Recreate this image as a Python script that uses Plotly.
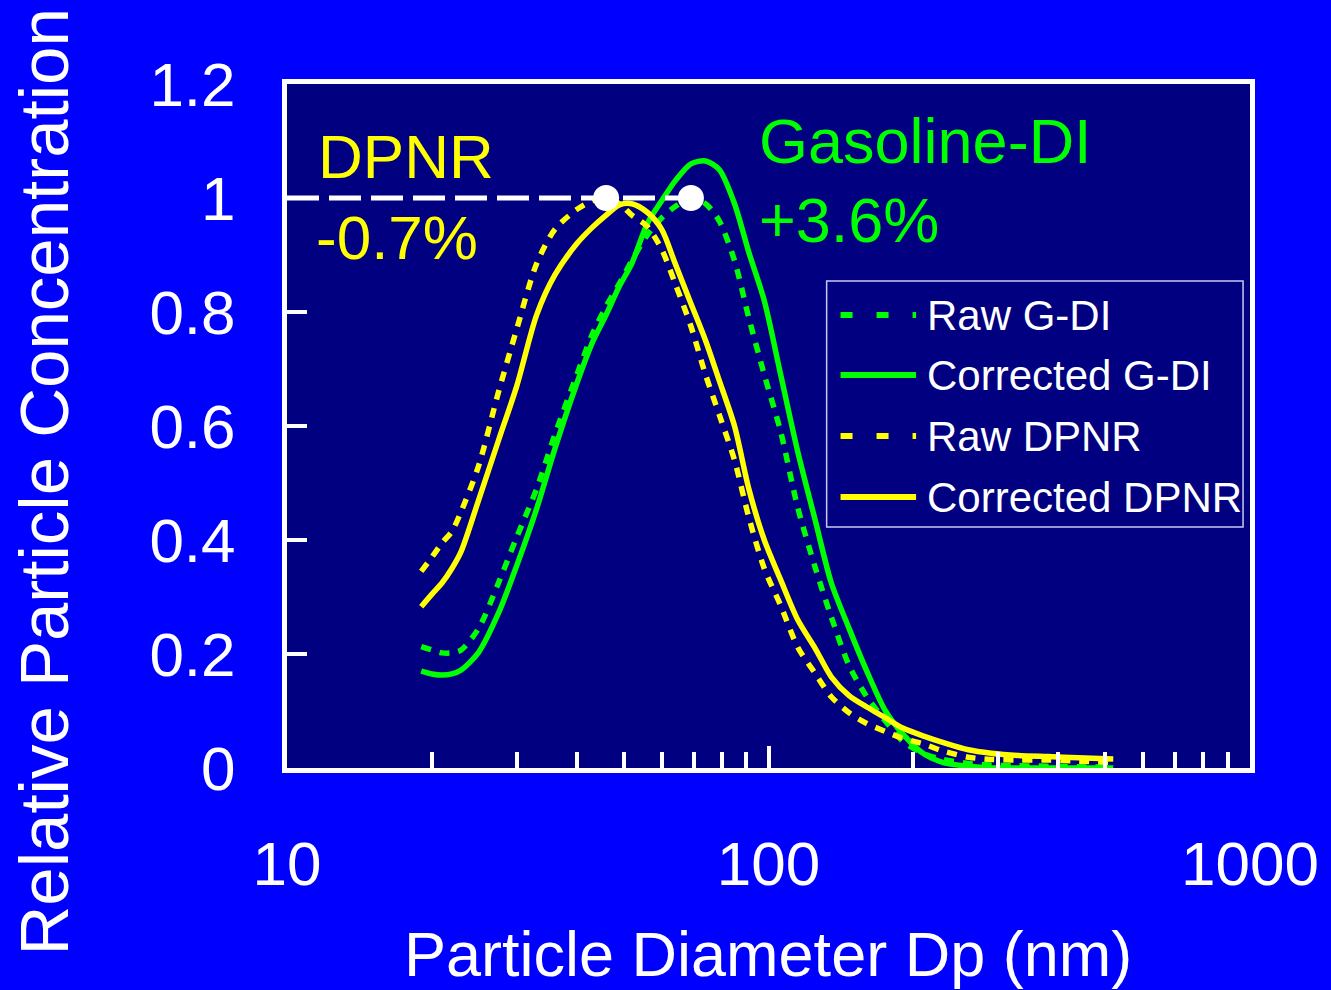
import plotly.graph_objects as go

# Particle diameter (nm)
dp_nm = [19, 20, 21, 22, 23, 25, 27.5, 30, 33, 36, 40, 43, 46, 49, 52, 56, 60, 64, 69, 74,
         79, 85, 91, 98, 106, 115, 125, 135, 147, 160, 175, 190, 210, 230, 260, 290, 330,
         380, 440, 520]

raw_gdi = [0.213, 0.207, 0.202, 0.202, 0.207, 0.245, 0.325, 0.405, 0.49, 0.585, 0.69, 0.76,
           0.81, 0.85, 0.89, 0.935, 0.965, 0.985, 1.0, 0.99, 0.96, 0.89, 0.79, 0.69, 0.59,
           0.457, 0.352, 0.265, 0.18, 0.125, 0.082, 0.047, 0.025, 0.015, 0.008, 0.005,
           0.004, 0.003, 0.002, 0.002]

corr_gdi = [0.170, 0.165, 0.163, 0.165, 0.172, 0.203, 0.272, 0.355, 0.455, 0.56, 0.675, 0.745,
            0.795, 0.845, 0.885, 0.955, 0.995, 1.03, 1.06, 1.065, 1.05, 0.99, 0.905, 0.82,
            0.69, 0.555, 0.435, 0.325, 0.245, 0.17, 0.10, 0.06, 0.025, 0.01, 0.003, 0.0,
            0.0, 0.0, 0.0, 0.0]

raw_dpnr = [0.345, 0.37, 0.395, 0.415, 0.45, 0.53, 0.66, 0.77, 0.885, 0.945, 0.98, 0.995,
            1.0, 0.99, 0.97, 0.95, 0.91, 0.85, 0.775, 0.69, 0.62, 0.54, 0.44, 0.35, 0.285,
            0.212, 0.166, 0.125, 0.097, 0.078, 0.064, 0.052, 0.042, 0.03, 0.019, 0.015,
            0.014, 0.014, 0.012, 0.010]

corr_dpnr = [0.283, 0.305, 0.325, 0.35, 0.38, 0.47, 0.575, 0.67, 0.795, 0.865, 0.92, 0.948,
             0.97, 0.988, 0.99, 0.975, 0.945, 0.885, 0.815, 0.75, 0.68, 0.60, 0.49, 0.40,
             0.33, 0.26, 0.21, 0.16, 0.127, 0.107, 0.088, 0.07, 0.056, 0.045, 0.032, 0.026,
             0.022, 0.020, 0.018, 0.016]

# Reference line at 1 and raw peak markers
ref_x = [10, 69]
ref_y = [1, 1]
peak_x = [46, 69]
peak_y = [1, 1]

x_tickvals = [10, 100, 1000]
x_ticktext = ["10", "100", "1000"]
x_minor = [20, 30, 40, 50, 60, 70, 80, 90, 200, 300, 400, 500, 600, 700, 800, 900]
y_tickvals = [0, 0.2, 0.4, 0.6, 0.8, 1.0, 1.2]
y_ticktext = ["0", "0.2", "0.4", "0.6", "0.8", "1", "1.2"]

series = [
    ("Raw G-DI", raw_gdi, "#00FF00", "10px,9px"),
    ("Corrected G-DI", corr_gdi, "#00FF00", "solid"),
    ("Raw DPNR", raw_dpnr, "#FFFF00", "10px,9px"),
    ("Corrected DPNR", corr_dpnr, "#FFFF00", "solid"),
]

FONT = "Liberation Sans, Arial, sans-serif"
GREEN = "#00FF00"
YELLOW = "#FFFF00"

fig = go.Figure()
for name, ys, col, dash in series:
    fig.add_trace(go.Scatter(x=dp_nm, y=ys, mode="lines", name=name,
                             line=dict(color=col, width=5.5, dash=dash, shape="spline", smoothing=0.8),
                             showlegend=False))

fig.add_trace(go.Scatter(x=ref_x, y=ref_y, mode="lines",
                         line=dict(color="white", width=5, dash="32px,10px"),
                         showlegend=False, hoverinfo="skip"))
fig.add_trace(go.Scatter(x=peak_x, y=peak_y, mode="markers",
                         marker=dict(color="white", size=26),
                         showlegend=False, hoverinfo="skip"))

L, R, T, B = 287, 1256, 84, 768
W, H = 1331, 990

def px(xp):
    return (xp - L) / (R - L)

def py(yp):
    return (B - yp) / (B - T)

annos = [
    dict(text="DPNR", x=px(316), y=py(156), color=YELLOW, size=62),
    dict(text="-0.7%", x=px(314), y=py(237), color=YELLOW, size=62),
    dict(text="Gasoline-DI", x=px(760), y=py(141), color=GREEN, size=63),
    dict(text="+3.6%", x=px(760), y=py(220), color=GREEN, size=63),
]
for a in annos:
    fig.add_annotation(text=a["text"], x=a["x"], y=a["y"], xref="paper", yref="paper",
                       xanchor="left", yanchor="middle", showarrow=False,
                       font=dict(family=FONT, size=a["size"], color=a["color"]))

# Axis titles
fig.add_annotation(text="Particle Diameter Dp (nm)", x=px(771), y=py(954), xref="paper", yref="paper",
                   xanchor="center", yanchor="middle", showarrow=False,
                   font=dict(family=FONT, size=63, color="white"))
fig.add_annotation(text="Relative Particle Concentration", x=px(42), y=py(482), xref="paper", yref="paper",
                   xanchor="center", yanchor="middle", showarrow=False, textangle=-90,
                   font=dict(family=FONT, size=69, color="white"))

# Legend (drawn manually to match wide line samples)
fig.add_shape(type="rect", xref="paper", yref="paper", x0=px(830), x1=px(1249), y0=py(527), y1=py(281),
              line=dict(color="#C8C8F0", width=1.5), fillcolor="rgba(0,0,0,0)")
rows = [315, 375, 436, 497]
for (name, ys, col, dash), ry in zip(series, rows):
    ldash = "12px,24px" if dash != "solid" else "solid"
    fig.add_shape(type="line", xref="paper", yref="paper", x0=px(844), x1=px(920), y0=py(ry), y1=py(ry),
                  line=dict(color=col, width=6, dash=ldash))
    fig.add_annotation(text=name, x=px(929), y=py(ry), xref="paper", yref="paper",
                       xanchor="left", yanchor="middle", showarrow=False,
                       font=dict(family=FONT, size=42, color="white"))

fig.update_xaxes(type="log", range=[1, 3], tickvals=x_tickvals, ticktext=x_ticktext,
                 ticks="inside", ticklen=22, tickwidth=4, tickcolor="white",
                 showline=True, linecolor="white", linewidth=5, mirror=True,
                 showgrid=False, zeroline=False, ticklabelstandoff=38,
                 tickfont=dict(family=FONT, size=62, color="white"),
                 minor=dict(tickvals=x_minor, ticks="inside", ticklen=16, tickwidth=4,
                            tickcolor="white", showgrid=False))
fig.update_yaxes(range=[0, 1.2], tickvals=y_tickvals, ticktext=y_ticktext,
                 ticks="inside", ticklen=20, tickwidth=4, tickcolor="white",
                 showline=True, linecolor="white", linewidth=5, mirror=True,
                 showgrid=False, zeroline=False, ticklabelstandoff=34,
                 tickfont=dict(family=FONT, size=62, color="white"))

fig.update_layout(width=W, height=H, margin=dict(l=L, r=W - R, t=T, b=H - B),
                  paper_bgcolor="#0000FF", plot_bgcolor="#000080", showlegend=False)

fig.write_html("out.html")
